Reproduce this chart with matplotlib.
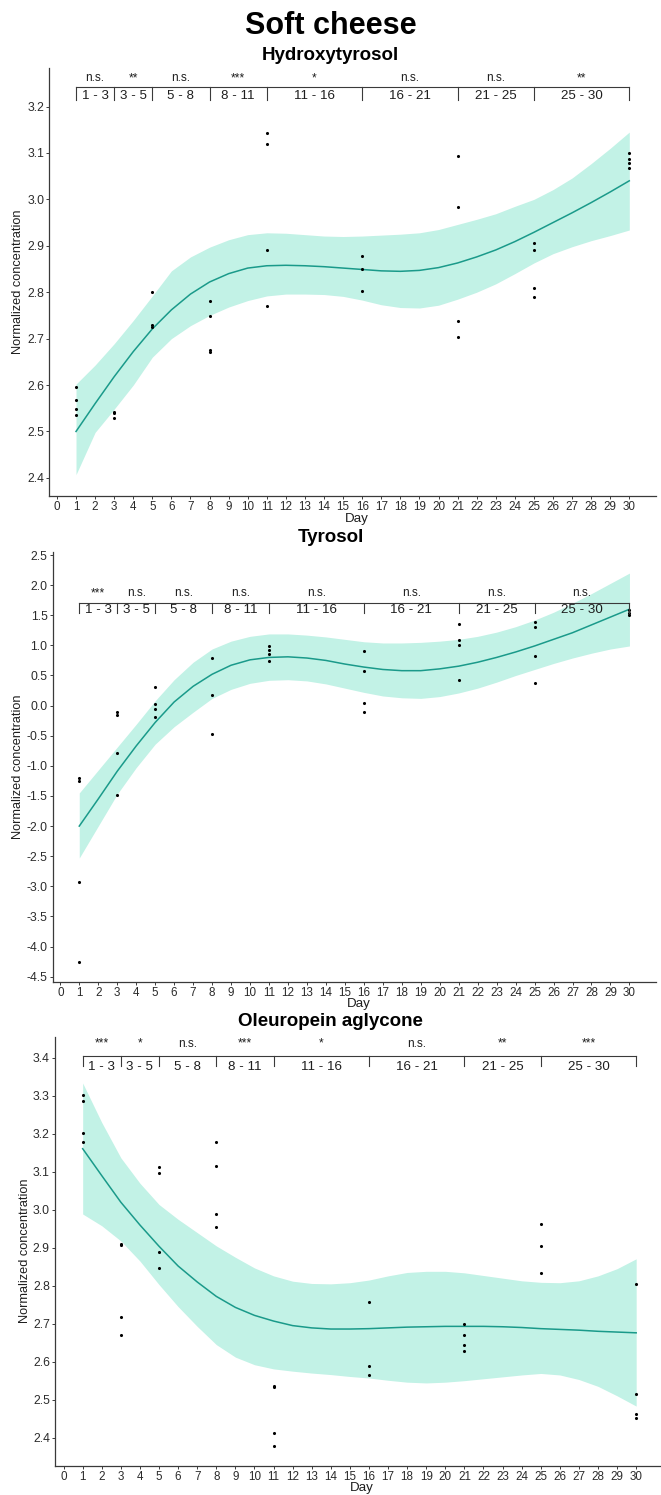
import matplotlib
matplotlib.use("Agg")
import matplotlib.pyplot as plt
import numpy as np

plt.rcParams['font.family'] = ['Liberation Sans', 'DejaVu Sans']

# ---------------- data ----------------
days_fit = list(range(1, 31))
bracket_days = [1, 3, 5, 8, 11, 16, 21, 25, 30]

# Hydroxytyrosol
ht_pts_x = [1, 1, 1, 1, 3, 3, 3, 5, 5, 5, 8, 8, 8, 8, 11, 11, 11, 11,
            16, 16, 16, 21, 21, 21, 21, 25, 25, 25, 25, 30, 30, 30, 30]
ht_pts_y = [2.596, 2.567, 2.548, 2.536, 2.543, 2.539, 2.530, 2.800, 2.729, 2.724,
            2.781, 2.748, 2.675, 2.671, 3.142, 3.119, 2.891, 2.771,
            2.879, 2.850, 2.802, 3.094, 2.984, 2.737, 2.703,
            2.905, 2.892, 2.810, 2.789, 3.099, 3.088, 3.078, 3.067]
ht_fit = [2.500, 2.560, 2.618, 2.672, 2.721, 2.762, 2.796, 2.822, 2.840, 2.852,
          2.857, 2.858, 2.857, 2.855, 2.852, 2.849, 2.846, 2.845, 2.847, 2.853,
          2.863, 2.876, 2.891, 2.909, 2.929, 2.950, 2.971, 2.993, 3.016, 3.040]
ht_upper = [2.602, 2.643, 2.689, 2.739, 2.792, 2.846, 2.876, 2.897, 2.913, 2.924,
            2.928, 2.927, 2.924, 2.921, 2.920, 2.921, 2.923, 2.925, 2.928, 2.935,
            2.946, 2.957, 2.969, 2.985, 3.000, 3.021, 3.046, 3.077, 3.110, 3.145]
ht_lower = [2.407, 2.498, 2.548, 2.600, 2.660, 2.700, 2.728, 2.750, 2.768, 2.782,
            2.792, 2.796, 2.796, 2.795, 2.791, 2.783, 2.773, 2.767, 2.766, 2.772,
            2.785, 2.800, 2.818, 2.840, 2.863, 2.883, 2.898, 2.911, 2.922, 2.934]
ht_sig = ["n.s.", "**", "n.s.", "***", "*", "n.s.", "n.s.", "**"]
ht_yticks = [2.4, 2.5, 2.6, 2.7, 2.8, 2.9, 3.0, 3.1, 3.2]

# Tyrosol
ty_pts_x = [1, 1, 1, 1, 3, 3, 3, 3, 5, 5, 5, 5, 8, 8, 8, 11, 11, 11, 11,
            16, 16, 16, 16, 21, 21, 21, 21, 25, 25, 25, 25, 30, 30, 30]
ty_pts_y = [-1.199, -1.249, -2.928, -4.260, -0.099, -0.160, -0.785, -1.486,
            0.315, 0.028, -0.055, -0.182, 0.785, 0.177, -0.470,
            0.989, 0.928, 0.856, 0.740, 0.906, 0.569, 0.044, -0.100,
            1.348, 1.083, 1.000, 0.420, 1.392, 1.310, 0.823, 0.381,
            1.586, 1.536, 1.497]
ty_fit = [-2.00, -1.55, -1.09, -0.67, -0.28, 0.06, 0.32, 0.52, 0.67, 0.76,
          0.80, 0.81, 0.79, 0.75, 0.69, 0.64, 0.60, 0.58, 0.58, 0.61,
          0.655, 0.72, 0.80, 0.89, 0.99, 1.10, 1.21, 1.34, 1.47, 1.60]
ty_upper = [-1.45, -1.07, -0.69, -0.31, 0.08, 0.43, 0.72, 0.94, 1.07, 1.15,
            1.19, 1.19, 1.17, 1.14, 1.10, 1.06, 1.04, 1.04, 1.05, 1.07,
            1.10, 1.15, 1.22, 1.31, 1.42, 1.55, 1.70, 1.86, 2.03, 2.20]
ty_lower = [-2.53, -2.00, -1.47, -1.03, -0.64, -0.35, -0.11, 0.12, 0.27, 0.37,
            0.42, 0.43, 0.41, 0.36, 0.29, 0.22, 0.16, 0.13, 0.12, 0.15,
            0.21, 0.29, 0.39, 0.50, 0.60, 0.70, 0.79, 0.87, 0.94, 0.99]
ty_sig = ["***", "n.s.", "n.s.", "n.s.", "n.s.", "n.s.", "n.s.", "n.s."]
ty_yticks = [-4.5, -4.0, -3.5, -3.0, -2.5, -2.0, -1.5, -1.0, -0.5, 0.0, 0.5, 1.0, 1.5, 2.0, 2.5]

# Oleuropein aglycone
oa_pts_x = [1, 1, 1, 1, 3, 3, 3, 3, 5, 5, 5, 5, 8, 8, 8, 8, 11, 11, 11, 11,
            16, 16, 16, 21, 21, 21, 21, 25, 25, 25, 30, 30, 30, 30]
oa_pts_y = [3.303, 3.286, 3.203, 3.179, 2.911, 2.908, 2.718, 2.669,
            3.114, 3.096, 2.889, 2.847, 3.178, 3.115, 2.988, 2.956,
            2.537, 2.534, 2.412, 2.377, 2.757, 2.588, 2.565,
            2.700, 2.671, 2.645, 2.628, 2.963, 2.906, 2.834,
            2.805, 2.515, 2.462, 2.451]
oa_fit = [3.161, 3.090, 3.020, 2.960, 2.904, 2.852, 2.810, 2.772, 2.743, 2.722,
          2.707, 2.695, 2.689, 2.686, 2.686, 2.687, 2.689, 2.691, 2.692, 2.693,
          2.693, 2.693, 2.692, 2.690, 2.687, 2.685, 2.683, 2.680, 2.678, 2.676]
oa_upper = [3.334, 3.230, 3.137, 3.070, 3.014, 2.975, 2.940, 2.905, 2.875, 2.847,
            2.826, 2.812, 2.806, 2.805, 2.808, 2.815, 2.826, 2.835, 2.838, 2.838,
            2.834, 2.827, 2.820, 2.813, 2.809, 2.808, 2.813, 2.826, 2.845, 2.871]
oa_lower = [2.989, 2.958, 2.918, 2.865, 2.803, 2.745, 2.693, 2.645, 2.612, 2.592,
            2.581, 2.575, 2.570, 2.566, 2.561, 2.557, 2.551, 2.546, 2.544, 2.546,
            2.550, 2.555, 2.560, 2.565, 2.569, 2.565, 2.553, 2.535, 2.510, 2.483]
oa_sig = ["***", "*", "n.s.", "***", "*", "n.s.", "**", "***"]
oa_yticks = [2.4, 2.5, 2.6, 2.7, 2.8, 2.9, 3.0, 3.1, 3.2, 3.3, 3.4]

# ---------------- figure ----------------
W, H = 661, 1495
fig = plt.figure(figsize=(W / 100, H / 100), dpi=100)

BAND = '#c2f2e6'
LINE = '#1a9a8a'
AXC = '#3a3a3a'
TXT = '#1e1e1e'


def px_axes(l, t, r, b):
    return fig.add_axes([l / W, 1 - b / H, (r - l) / W, (b - t) / H])


def panel(box, xlim, ylim, px, py, fit, up, lo, sig, yticks, title, title_y,
          br_line, br_tick, br_sig, br_rng, ylab_x, day_y, fmt):
    ax = px_axes(*box)
    ax.fill_between(days_fit, lo, up, color=BAND, lw=0, zorder=1)
    ax.plot(days_fit, fit, color=LINE, lw=1.1, zorder=2)
    ax.scatter(px, py, s=5, color='black', lw=0, zorder=3)
    ax.set_xlim(*xlim)
    ax.set_ylim(*ylim)
    ax.set_xticks(range(0, 31))
    ax.set_yticks(yticks)
    ax.set_yticklabels([fmt.format(v) for v in yticks])
    for s in ['top', 'right']:
        ax.spines[s].set_visible(False)
    for s in ['left', 'bottom']:
        ax.spines[s].set_color(AXC)
        ax.spines[s].set_linewidth(0.9)
    ax.tick_params(axis='both', direction='out', length=2.5, width=0.7,
                   color=AXC, labelcolor='#2b2b2b', pad=1.2)
    ax.tick_params(axis='x', labelsize=8.4)
    ax.tick_params(axis='y', labelsize=8.8)
    # brackets
    ax.plot([bracket_days[0], bracket_days[-1]], [br_line, br_line],
            color=AXC, lw=0.8, clip_on=False, zorder=4)
    for d in bracket_days:
        ax.plot([d, d], [br_line, br_tick], color=AXC, lw=0.8, clip_on=False, zorder=4)
    for i in range(len(bracket_days) - 1):
        a, b = bracket_days[i], bracket_days[i + 1]
        xm = (a + b) / 2
        ax.text(xm, br_rng, f"{a} - {b}", ha='center', va='center', fontsize=9.6,
                color=TXT)
        ax.text(xm, br_sig, sig[i], ha='center', va='center', fontsize=8.6,
                color=TXT)
    fig.text(0.5, 1 - title_y / H, title, ha='center', va='center',
             fontsize=13.5, fontweight='bold')
    fig.text(ylab_x / W, 1 - (box[1] + box[3]) / 2 / H, 'Normalized concentration',
             rotation=90, ha='center', va='center', fontsize=9.2, color=TXT)
    fig.text(((box[0] + box[2]) / 2 + 4) / W, 1 - day_y / H, 'Day', ha='center', va='center',
             fontsize=9.6, color=TXT)
    return ax


fig.text(0.5, 1 - 26 / H, 'Soft cheese', ha='center', va='center',
         fontsize=22, fontweight='bold')

panel((49.3, 68, 656, 496), (-0.40, 31.4), (2.361, 3.283),
      ht_pts_x, ht_pts_y, ht_fit, ht_upper, ht_lower, ht_sig, ht_yticks,
      'Hydroxytyrosol', 55, 3.243, 3.215, 3.261, 3.222, 18, 519, '{:.1f}')

panel((52.7, 552, 656, 981.7), (-0.40, 31.4), (-4.583, 2.55),
      ty_pts_x, ty_pts_y, ty_fit, ty_upper, ty_lower, ty_sig, ty_yticks,
      'Tyrosol', 537, 1.708, 1.53, 1.864, 1.587, 18.5, 1004, '{:.1f}')

panel((55, 1036.7, 661, 1465.7), (-0.45, 31.3), (2.326, 3.456),
      oa_pts_x, oa_pts_y, oa_fit, oa_upper, oa_lower, oa_sig, oa_yticks,
      'Oleuropein aglycone', 1021, 3.405, 3.378, 3.438, 3.376, 25, 1488.5, '{:.1f}')

fig.savefig('out.png', dpi=100)
